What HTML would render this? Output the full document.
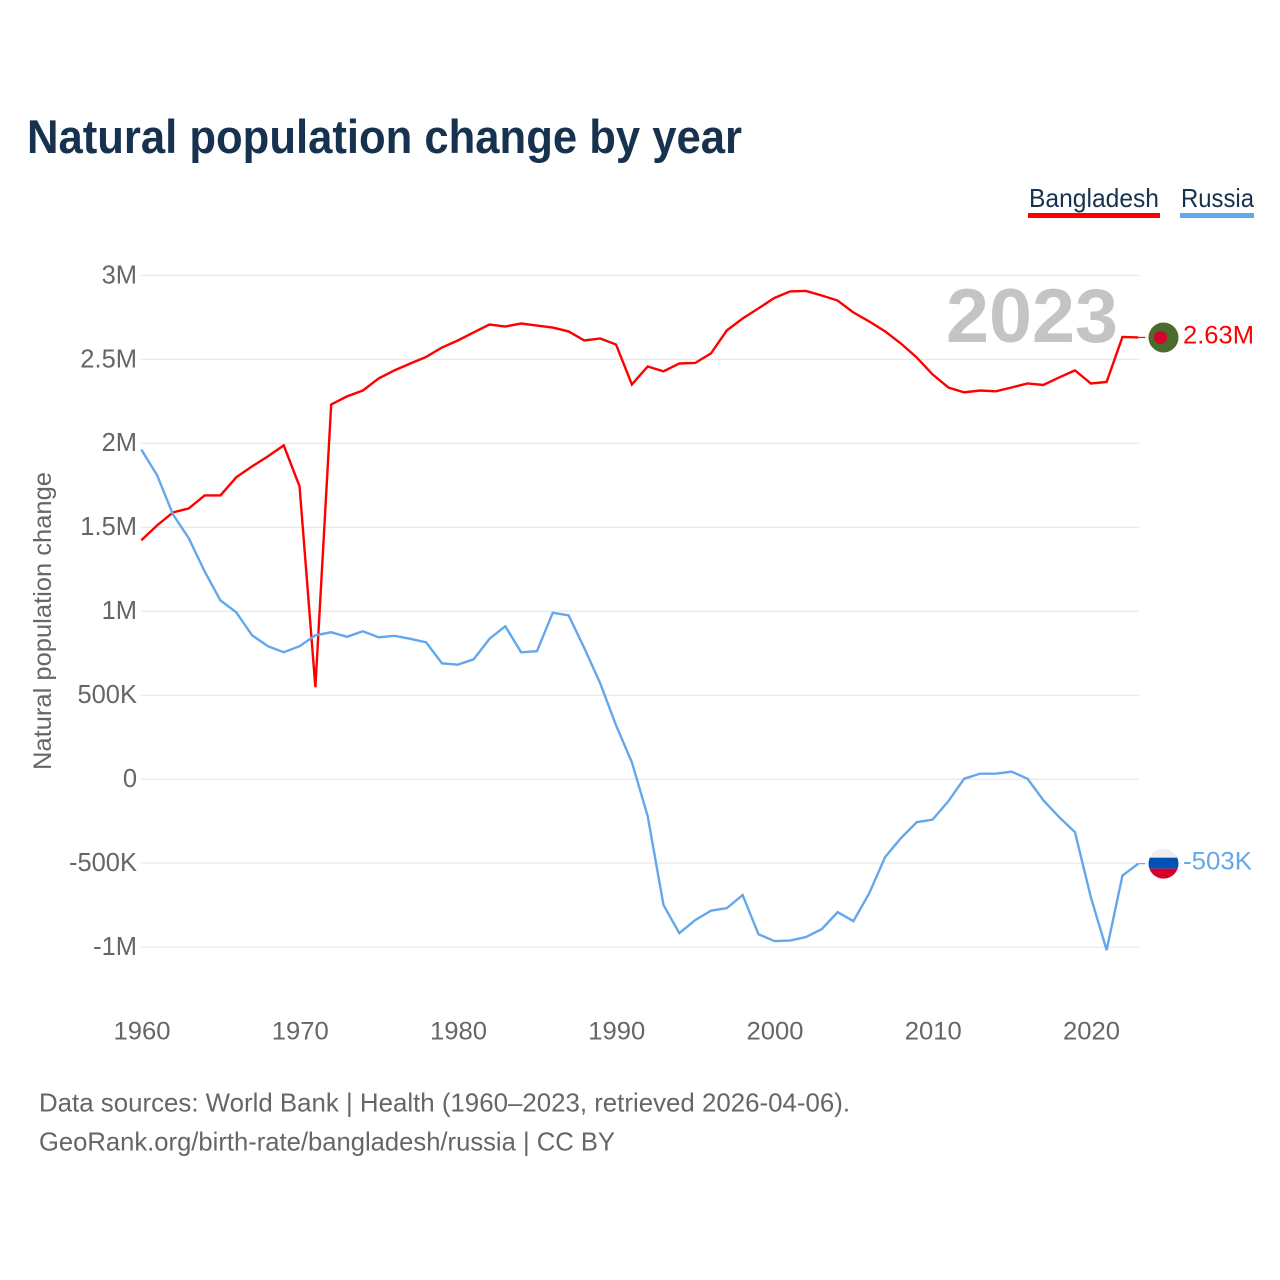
<!DOCTYPE html>
<html lang="en">
<head>
<meta charset="utf-8">
<title>Natural population change by year</title>
<style>
html,body{margin:0;padding:0;background:#fff;width:1280px;height:1280px;overflow:hidden}
svg{display:block}
text{font-family:"Liberation Sans",sans-serif}
</style>
</head>
<body>
<svg id="chart" xmlns="http://www.w3.org/2000/svg" width="1280" height="1280" viewBox="0 0 1280 1280">
  <defs>
    <clipPath id="clip-ru"><circle id="clip-ru-c" cx="1163.5" cy="863" r="15"/></clipPath>
  </defs>
  <text x="27" y="153" font-size="47" font-weight="700" fill="#17324f" textLength="715" lengthAdjust="spacingAndGlyphs">Natural population change by year</text>
  <g>
    <g>
      <text x="1029" y="207" font-size="26" fill="#17324f" textLength="130" lengthAdjust="spacingAndGlyphs">Bangladesh</text>
      <rect x="1028" y="213" width="132" height="5" fill="#ff0000"/>
    </g>
    <g>
      <text x="1181" y="207" font-size="26" fill="#17324f" textLength="73" lengthAdjust="spacingAndGlyphs">Russia</text>
      <rect x="1180" y="213" width="74" height="5" fill="#63a8ec"/>
    </g>
  </g>
  <g id="grid"></g>
  <g id="yticks"></g>
  <g id="xticks"></g>
  <text transform="translate(51,621) rotate(-90)" text-anchor="middle" font-size="25" fill="#666666" textLength="298" lengthAdjust="spacingAndGlyphs">Natural population change</text>
  <text x="946" y="342" font-size="76" font-weight="700" fill="#c4c4c4" textLength="172" lengthAdjust="spacingAndGlyphs">2023</text>
  <g id="series"></g>
  <g id="ends"></g>
  <g>
    <text x="39" y="1111.5" font-size="26" fill="#666666" textLength="811" lengthAdjust="spacingAndGlyphs">Data sources: World Bank | Health (1960–2023, retrieved 2026-04-06).</text>
    <text x="39" y="1150.5" font-size="26" fill="#666666" textLength="576" lengthAdjust="spacingAndGlyphs">GeoRank.org/birth-rate/bangladesh/russia | CC BY</text>
  </g>
</svg>
<script>
const startYear = 1960;
const xTickYears = [1960, 1970, 1980, 1990, 2000, 2010, 2020];
const yTickValues = [3, 2.5, 2, 1.5, 1, 0.5, 0, -0.5, -1];
const yTickLabels = ['3M', '2.5M', '2M', '1.5M', '1M', '500K', '0', '-500K', '-1M'];
const bangladeshValues = [1.423,1.512,1.589,1.613,1.690,1.690,1.798,1.863,1.923,1.988,1.744,0.548,2.232,2.280,2.315,2.387,2.435,2.476,2.515,2.571,2.613,2.661,2.708,2.696,2.714,2.702,2.690,2.667,2.613,2.625,2.589,2.351,2.458,2.429,2.476,2.479,2.536,2.673,2.744,2.804,2.866,2.905,2.908,2.881,2.851,2.780,2.726,2.667,2.595,2.512,2.411,2.333,2.304,2.315,2.310,2.333,2.357,2.348,2.393,2.435,2.357,2.366,2.634,2.631];
const russiaValues = [1.964,1.810,1.577,1.435,1.238,1.065,0.994,0.857,0.792,0.756,0.792,0.857,0.875,0.848,0.881,0.845,0.854,0.836,0.815,0.690,0.682,0.714,0.836,0.911,0.756,0.762,0.991,0.976,0.780,0.571,0.321,0.101,-0.220,-0.750,-0.917,-0.839,-0.783,-0.768,-0.690,-0.923,-0.964,-0.961,-0.940,-0.893,-0.792,-0.845,-0.679,-0.464,-0.351,-0.256,-0.241,-0.131,0.003,0.033,0.033,0.045,0.003,-0.125,-0.226,-0.315,-0.702,-1.018,-0.574,-0.503];
const bangladeshEndLabel = '2.63M';
const russiaEndLabel = '-503K';

const NS = 'http://www.w3.org/2000/svg';
const xScale = function (year) { return 141.3 + (year - startYear) * 15.825; };
const yScale = function (value) { return 779.2 - value * 167.9; };
const lastYear = startYear + bangladeshValues.length - 1;

function make(tag, attrs, text) {
  const el = document.createElementNS(NS, tag);
  Object.keys(attrs).forEach(function (k) { el.setAttribute(k, attrs[k]); });
  if (text !== undefined) el.textContent = text;
  return el;
}

const grid = document.getElementById('grid');
const yticks = document.getElementById('yticks');
yTickValues.forEach(function (v, i) {
  const line = make('line', { x1: 141, x2: 1139, y1: yScale(v), y2: yScale(v), stroke: '#e8e8e8', 'stroke-width': 1.3 });
  
  
  grid.appendChild(line);
  const label = make('text', { x: 137, y: yScale(v) + 7.8, 'text-anchor': 'end', 'font-size': 25.5, fill: '#666666' }, yTickLabels[i]);
  
  
  yticks.appendChild(label);
});

const xticks = document.getElementById('xticks');
xTickYears.forEach(function (year) {
  const label = make('text', { x: xScale(year) + 0.7, y: 1039.5, 'text-anchor': 'middle', 'font-size': 25, fill: '#666666', textLength: 57, lengthAdjust: 'spacingAndGlyphs' }, String(year));
  
  
  xticks.appendChild(label);
});

function linePath(values) {
  return values.map(function (v, i) {
    return (i ? 'L' : 'M') + xScale(startYear + i).toFixed(2) + ' ' + yScale(v).toFixed(2);
  }).join(' ');
}

const seriesGroup = document.getElementById('series');
const bdLine = make('path', { d: linePath(bangladeshValues), fill: 'none', stroke: '#ff0000', 'stroke-width': 2.4, 'stroke-linejoin': 'miter' });


const ruLine = make('path', { d: linePath(russiaValues), fill: 'none', stroke: '#63a8ec', 'stroke-width': 2.4, 'stroke-linejoin': 'miter' });


seriesGroup.appendChild(bdLine);
seriesGroup.appendChild(ruLine);

const ends = document.getElementById('ends');
const xEnd = xScale(lastYear);
const flagX = 1163.5;
const bdY = yScale(bangladeshValues[bangladeshValues.length - 1]);
const ruY = yScale(russiaValues[russiaValues.length - 1]);

document.getElementById('clip-ru-c').setAttribute('cy', ruY);

const bdConnector = make('line', { x1: xEnd, x2: xEnd + 7, y1: bdY, y2: bdY, stroke: '#ff0000', 'stroke-width': 1.2 });


ends.appendChild(bdConnector);
const ruConnector = make('line', { x1: xEnd, x2: xEnd + 7, y1: ruY, y2: ruY, stroke: '#63a8ec', 'stroke-width': 1.2 });


ends.appendChild(ruConnector);

const bdFlag = make('g', {});


bdFlag.appendChild(make('circle', { cx: flagX, cy: bdY, r: 15, fill: '#4a6b2e' }));
bdFlag.appendChild(make('circle', { cx: flagX - 3, cy: bdY, r: 6.5, fill: '#d80027' }));
ends.appendChild(bdFlag);

const ruFlag = make('g', { 'clip-path': 'url(#clip-ru)' });


ruFlag.appendChild(make('rect', { x: flagX - 15, y: ruY - 15, width: 30, height: 9, fill: '#eeeeee' }));
ruFlag.appendChild(make('rect', { x: flagX - 15, y: ruY - 6, width: 30, height: 11, fill: '#0052b4' }));
ruFlag.appendChild(make('rect', { x: flagX - 15, y: ruY + 5, width: 30, height: 10, fill: '#d80027' }));
ends.appendChild(ruFlag);

const bdLabel = make('text', { x: 1183, y: bdY + 6, 'font-size': 25, fill: '#ff0000', textLength: 71, lengthAdjust: 'spacingAndGlyphs' }, bangladeshEndLabel);


ends.appendChild(bdLabel);
const ruLabel = make('text', { x: 1183, y: ruY + 6, 'font-size': 25, fill: '#63a8ec', textLength: 69, lengthAdjust: 'spacingAndGlyphs' }, russiaEndLabel);


ends.appendChild(ruLabel);
</script>
</body>
</html>
